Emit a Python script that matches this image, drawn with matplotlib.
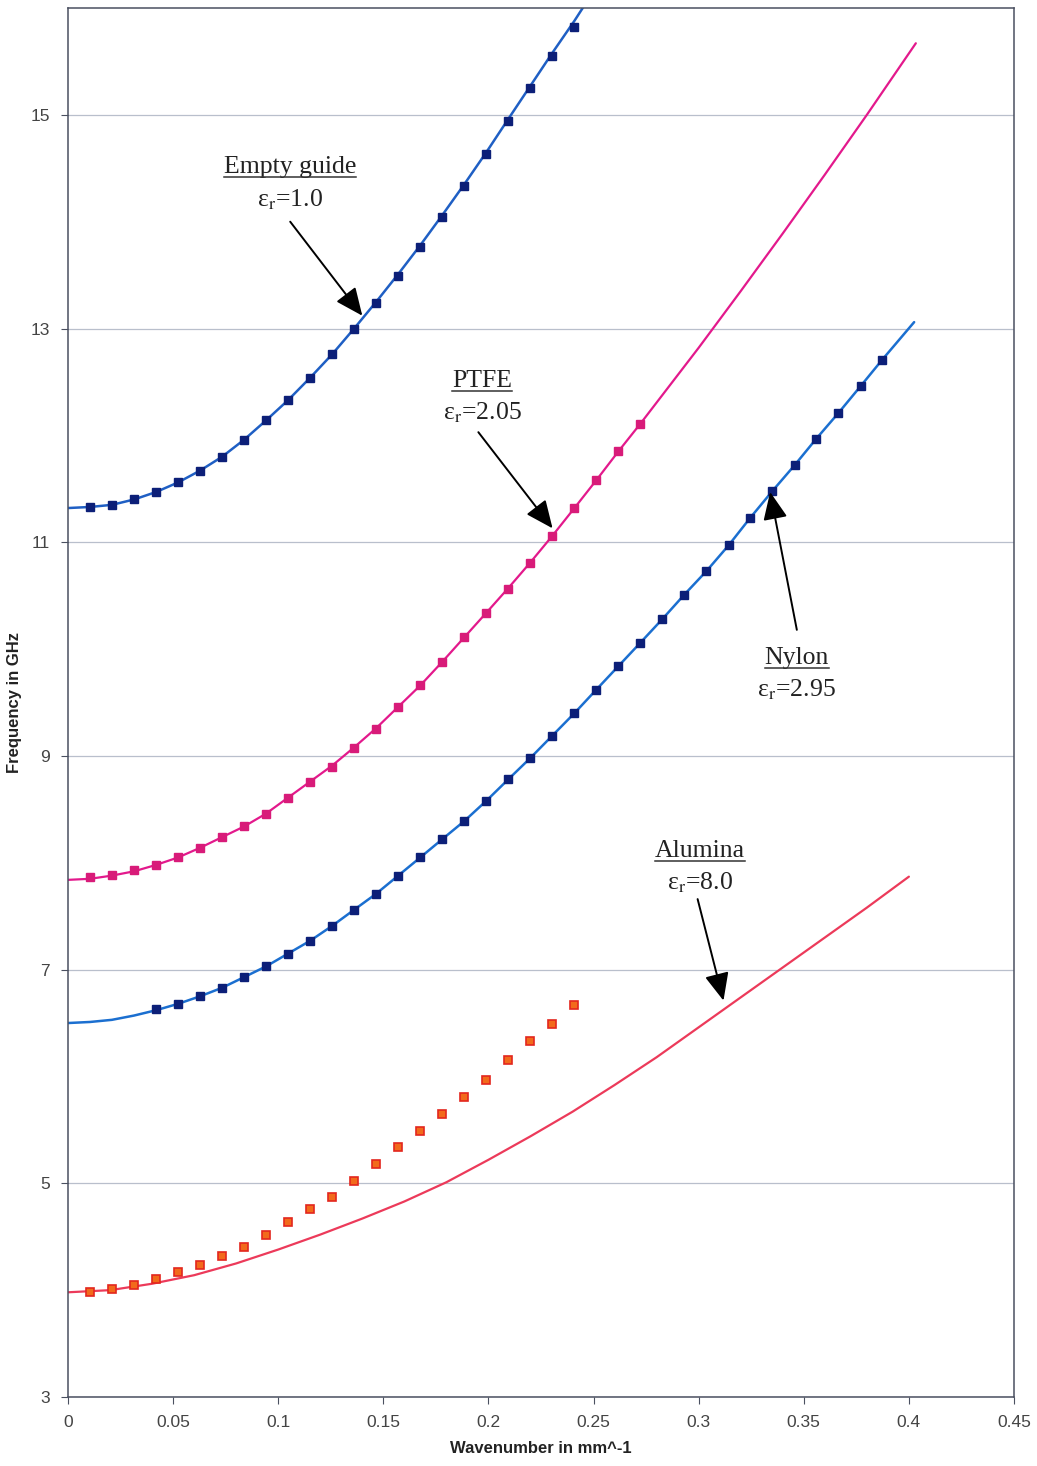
import matplotlib
matplotlib.use("Agg")
import matplotlib.pyplot as plt
from matplotlib.lines import Line2D

plt.rcParams["font.family"] = ["Liberation Sans", "DejaVu Sans"]
plt.rcParams["mathtext.fontset"] = "stix"

# ---- measured points (wavenumber in mm^-1, frequency in GHz) ----
empty_k = [0.0105, 0.0209, 0.0314, 0.0419, 0.0524, 0.0628, 0.0733, 0.0838,
           0.0942, 0.1047, 0.1152, 0.1257, 0.1361, 0.1466, 0.1571, 0.1676,
           0.1780, 0.1885, 0.1990, 0.2094, 0.2199, 0.2304, 0.2409]
empty_f = [11.33, 11.35, 11.40, 11.47, 11.56, 11.67, 11.80, 11.96,
           12.14, 12.33, 12.54, 12.76, 13.00, 13.24, 13.49, 13.76,
           14.04, 14.33, 14.63, 14.94, 15.25, 15.55, 15.82]

ptfe_k = [0.0105, 0.0209, 0.0314, 0.0419, 0.0524, 0.0628, 0.0733, 0.0838,
          0.0942, 0.1047, 0.1152, 0.1257, 0.1361, 0.1466, 0.1571, 0.1676,
          0.1780, 0.1885, 0.1990, 0.2094, 0.2199, 0.2304, 0.2409, 0.2513,
          0.2618, 0.2723]
ptfe_f = [7.87, 7.89, 7.93, 7.98, 8.05, 8.14, 8.24, 8.34,
          8.46, 8.61, 8.76, 8.90, 9.07, 9.25, 9.46, 9.66,
          9.88, 10.11, 10.34, 10.56, 10.81, 11.06, 11.32, 11.58,
          11.85, 12.11]

nylon_k = [0.0419, 0.0524, 0.0628, 0.0733, 0.0838, 0.0942, 0.1047, 0.1152,
           0.1257, 0.1361, 0.1466, 0.1571, 0.1676, 0.1780, 0.1885, 0.1990,
           0.2094, 0.2199, 0.2304, 0.2409, 0.2513, 0.2618, 0.2723, 0.2827,
           0.2932, 0.3037, 0.3142, 0.3246, 0.3351, 0.3456, 0.3560, 0.3665,
           0.3770, 0.3874]
nylon_f = [6.63, 6.68, 6.75, 6.83, 6.93, 7.03, 7.15, 7.27,
           7.41, 7.56, 7.71, 7.88, 8.05, 8.22, 8.39, 8.58,
           8.78, 8.98, 9.19, 9.40, 9.62, 9.84, 10.06, 10.28,
           10.51, 10.73, 10.97, 11.23, 11.48, 11.72, 11.97, 12.21,
           12.46, 12.71]

alumina_k = [0.0105, 0.0209, 0.0314, 0.0419, 0.0524, 0.0628, 0.0733, 0.0838,
             0.0942, 0.1047, 0.1152, 0.1257, 0.1361, 0.1466, 0.1571, 0.1676,
             0.1780, 0.1885, 0.1990, 0.2094, 0.2199, 0.2304, 0.2409]
alumina_f = [3.98, 4.01, 4.05, 4.10, 4.17, 4.24, 4.32, 4.40,
             4.52, 4.64, 4.76, 4.87, 5.02, 5.18, 5.34, 5.49,
             5.65, 5.81, 5.97, 6.15, 6.33, 6.49, 6.67]

# ---- calculated dispersion curves ----
empty_line_k = [0.0, 0.0105, 0.0209, 0.0314, 0.0419, 0.0524, 0.0628, 0.0733,
                0.0838, 0.0942, 0.1047, 0.1152, 0.1257, 0.1361, 0.1466,
                0.1571, 0.1676, 0.1780, 0.1885, 0.1990, 0.2094, 0.2199,
                0.2304, 0.2409, 0.2455]
empty_line_f = [11.32, 11.33, 11.35, 11.40, 11.47, 11.56, 11.67, 11.80,
                11.96, 12.14, 12.33, 12.54, 12.76, 13.00, 13.25,
                13.51, 13.78, 14.06, 14.35, 14.65, 14.96, 15.27,
                15.58, 15.88, 16.02]

ptfe_line_k = [0.0, 0.0105, 0.0209, 0.0314, 0.0419, 0.0524, 0.0628, 0.0733,
               0.0838, 0.0942, 0.1047, 0.1152, 0.1257, 0.1361, 0.1466,
               0.1571, 0.1676, 0.1780, 0.1885, 0.1990, 0.2094, 0.2199,
               0.2304, 0.2409, 0.2513, 0.2618, 0.2723, 0.30, 0.32, 0.34,
               0.36, 0.38, 0.4033]
ptfe_line_f = [7.84, 7.85, 7.88, 7.92, 7.98, 8.05, 8.14, 8.24,
               8.34, 8.46, 8.61, 8.76, 8.91, 9.08, 9.26,
               9.46, 9.66, 9.88, 10.11, 10.34, 10.57, 10.81,
               11.06, 11.32, 11.58, 11.85, 12.11, 12.82, 13.35, 13.89,
               14.44, 15.00, 15.67]

nylon_line_k = [0.0, 0.0105, 0.0209, 0.0314, 0.0419, 0.0524, 0.0628, 0.0733,
                0.0838, 0.0942, 0.1047, 0.1152, 0.1257, 0.1361, 0.1466,
                0.1571, 0.1676, 0.1780, 0.1885, 0.1990, 0.2094, 0.2199,
                0.2304, 0.2409, 0.2513, 0.2618, 0.2723, 0.2827, 0.2932,
                0.3037, 0.3142, 0.3246, 0.3351, 0.3456, 0.3560, 0.3665,
                0.3770, 0.3874, 0.4025]
nylon_line_f = [6.50, 6.51, 6.53, 6.57, 6.62, 6.68, 6.75, 6.83,
                6.93, 7.03, 7.15, 7.27, 7.41, 7.56, 7.71,
                7.88, 8.05, 8.22, 8.39, 8.58, 8.78, 8.98,
                9.19, 9.40, 9.62, 9.84, 10.06, 10.28, 10.51,
                10.73, 10.97, 11.23, 11.48, 11.72, 11.97, 12.21,
                12.46, 12.71, 13.06]

alumina_line_k = [0.0, 0.02, 0.04, 0.06, 0.08, 0.10, 0.12, 0.14, 0.16, 0.18,
                  0.20, 0.22, 0.24, 0.26, 0.28, 0.30, 0.32, 0.34, 0.36, 0.38,
                  0.40]
alumina_line_f = [3.98, 4.00, 4.06, 4.14, 4.25, 4.38, 4.52, 4.67, 4.83, 5.01,
                  5.22, 5.44, 5.67, 5.92, 6.18, 6.46, 6.74, 7.02, 7.30, 7.58,
                  7.87]

x_ticks = [0, 0.05, 0.1, 0.15, 0.2, 0.25, 0.3, 0.35, 0.4, 0.45]
x_tick_labels = ["0", "0.05", "0.1", "0.15", "0.2", "0.25", "0.3", "0.35", "0.4", "0.45"]
y_ticks = [3, 5, 7, 9, 11, 13, 15]

# (title, permittivity text, label position, arrow tail, arrow head)
labels = [
    ("Empty guide", "ε$_{\\mathrm{r}}$=1.0", (0.1057, 14.51), (0.1057, 14.00), (0.1400, 13.12)),
    ("PTFE", "ε$_{\\mathrm{r}}$=2.05", (0.1970, 12.51), (0.1952, 12.03), (0.2305, 11.13)),
    ("Nylon", "ε$_{\\mathrm{r}}$=2.95", (0.3467, 9.92), (0.3467, 10.18), (0.3340, 11.47)),
    ("Alumina", "ε$_{\\mathrm{r}}$=8.0", (0.3005, 8.11), (0.2995, 7.66), (0.3118, 6.71)),
]

fig = plt.figure(figsize=(10.37, 14.66), dpi=100)
ax = fig.add_axes([68 / 1037, 1 - 1397 / 1466, (1014 - 68) / 1037, (1397 - 8) / 1466])

ax.set_xlim(0, 0.45)
ax.set_ylim(3, 16)
ax.set_xticks(x_ticks)
ax.set_xticklabels(x_tick_labels)
ax.set_yticks(y_ticks)
ax.yaxis.grid(True, color="#b9bfcc", linewidth=0.9)
ax.set_axisbelow(True)
for s in ax.spines.values():
    s.set_color("#4a5060")
    s.set_linewidth(1.1)
ax.tick_params(axis="both", direction="out", length=5, color="#4a5060",
               labelsize=12.5, labelcolor="#444444", pad=8)

# curves
line_kw = dict(solid_joinstyle="round", solid_capstyle="round", zorder=2)
ax.plot(empty_line_k, empty_line_f, color="#1f5fc4", lw=1.8, **line_kw)
ax.plot(ptfe_line_k, ptfe_line_f, color="#e3198c", lw=1.6, **line_kw)
ax.plot(nylon_line_k, nylon_line_f, color="#1b6fd0", lw=1.8, **line_kw)
ax.plot(alumina_line_k, alumina_line_f, color="#ec3a5a", lw=1.6, **line_kw)

# measurements
ax.plot(empty_k, empty_f, ls="none", marker="s", ms=5.5, mfc="#0c1f78", mec="#0c1f78", zorder=3)
ax.plot(ptfe_k, ptfe_f, ls="none", marker="s", ms=5.5, mfc="#d81b79", mec="#d81b79", zorder=3)
ax.plot(nylon_k, nylon_f, ls="none", marker="s", ms=5.5, mfc="#0c1f78", mec="#0c1f78", zorder=3)
ax.plot(alumina_k, alumina_f, ls="none", marker="s", ms=5.5, mfc="#f26a1b", mec="#e3261e",
        mew=1.2, zorder=3)

ax.set_xlabel("Wavenumber in mm^-1", fontsize=12, fontweight="bold", color="#222222", labelpad=8)
ax.set_ylabel("Frequency in GHz", fontsize=12, fontweight="bold", color="#222222")
ax.yaxis.set_label_coords(-0.049, 0.5)

title_texts = []
for title, eps, (lx, ly), tail, head in labels:
    t = ax.text(lx, ly, title, fontsize=18.5, family="Liberation Serif", color="#222222",
                ha="center", va="center")
    title_texts.append(t)
    ax.text(lx, ly - 0.30, eps, fontsize=18.5, family="Liberation Serif", color="#222222",
            ha="center", va="center")
    ax.annotate("", xy=head, xytext=tail,
                arrowprops=dict(arrowstyle="-|>,head_length=1.7,head_width=0.75",
                                color="black", lw=1.4, shrinkA=0, shrinkB=0))

# underline the material names
fig.canvas.draw()
renderer = fig.canvas.get_renderer()
inv = fig.transFigure.inverted()
for t in title_texts:
    bb = t.get_window_extent(renderer)
    (x0, y0) = inv.transform((bb.x0, bb.y0 + 1))
    (x1, _) = inv.transform((bb.x1, bb.y0 + 1))
    fig.add_artist(Line2D([x0, x1], [y0, y0], transform=fig.transFigure,
                          color="#333333", lw=1.1))

fig.savefig("out.png", dpi=100)
